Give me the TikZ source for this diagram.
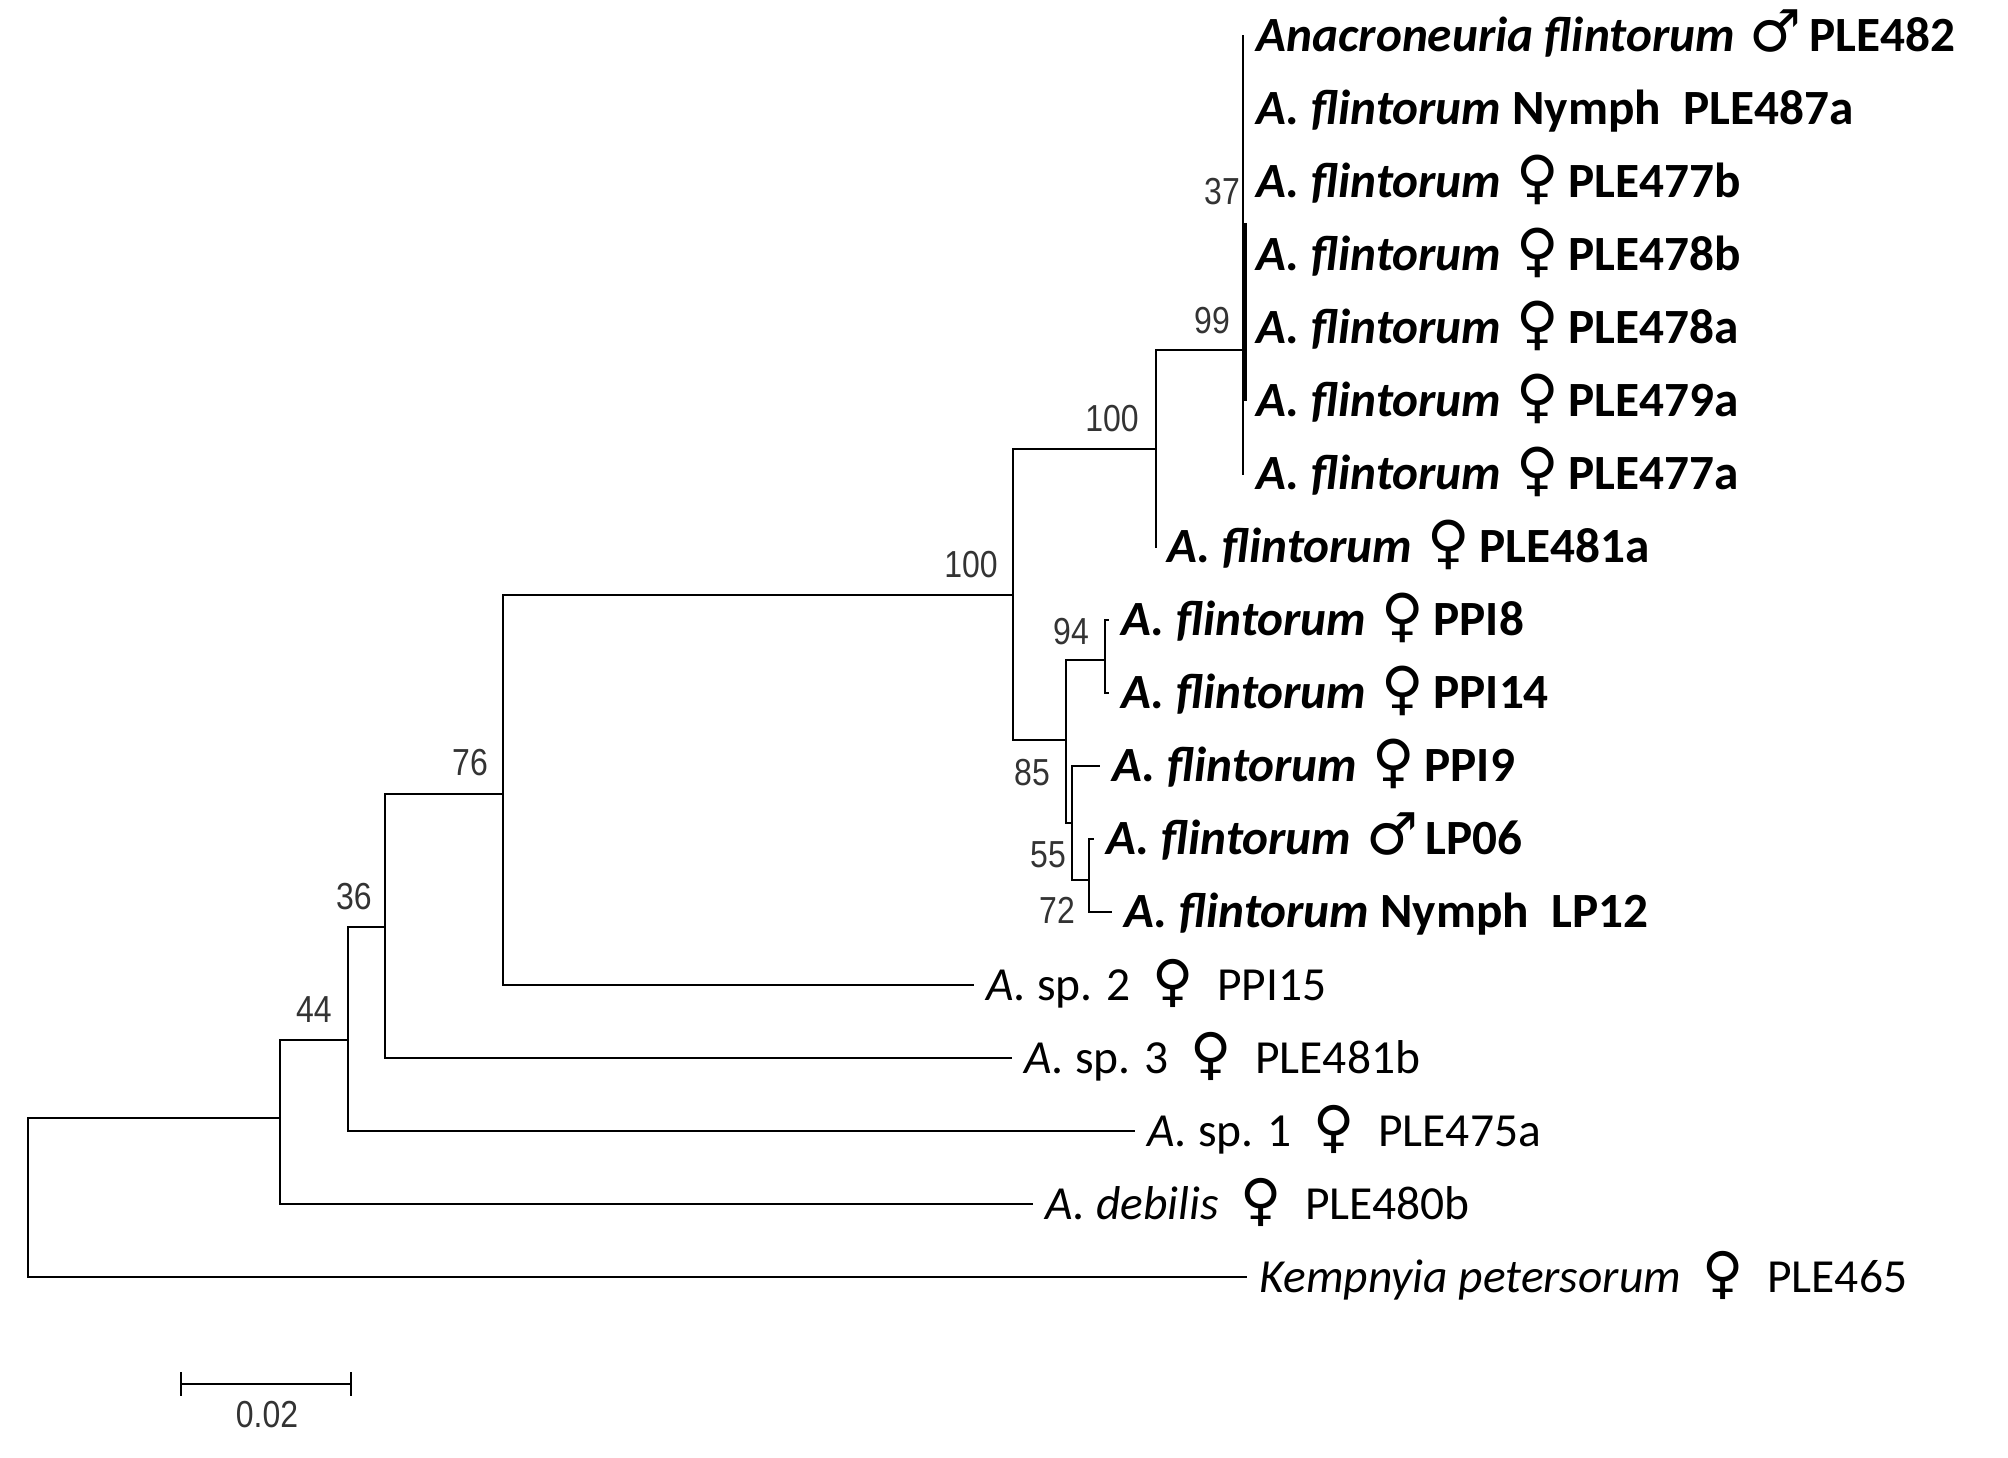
\documentclass[tikz,border=0pt]{standalone}
\usepackage{fontspec}
\setmainfont{Carlito}
\newfontfamily\symfont{DejaVu Sans}
\newfontfamily\bsfont[FakeStretch=0.85]{Liberation Sans}
\newcommand{\fsym}{\hspace{0.3em}{\symfont\fontsize{16.5}{16}\selectfont ♀}\hspace{0.2em}}
\newcommand{\msym}{\hspace{0.3em}{\symfont\fontsize{16.5}{16}\selectfont ♂}\hspace{0.15em}}
\newcommand{\fsymr}{\hspace{0.45em}{\symfont\fontsize{16}{16}\selectfont ♀}\hspace{0.5em}}

\begin{document}
\begin{tikzpicture}[
    x=0.01cm, y=-0.01cm,
    br/.style={line width=0.8pt},
    leaf/.style={anchor=west, inner xsep=3.4pt, inner ysep=0pt, text height=8.7pt, text depth=0pt, font=\fontsize{13.5}{15}\selectfont},
    leafb/.style={leaf, text height=9pt, font=\fontsize{14}{16}\selectfont\bfseries},
    boot/.style={inner sep=0pt, text=black!80, font=\bsfont\fontsize{10.7}{12}\selectfont}
]
\useasboundingbox (0,0) rectangle (2008,1458);

% internal nodes of the tree
\coordinate (root) at (28,1200);
\coordinate (nA) at (280,1118);
\coordinate (n44) at (348,1040);
\coordinate (n36) at (385,927);
\coordinate (n76) at (503,794);
\coordinate (n100a) at (1013,595);
\coordinate (n100b) at (1156,449);
\coordinate (n99) at (1243,350);
\coordinate (n37) at (1245,223);
\coordinate (n85) at (1066,740);
\coordinate (n94) at (1105,660);
\coordinate (nK) at (1072,823);
\coordinate (nL) at (1089,880);

% terminal taxa
\node[leafb] (ple482) at (1244,36) {\textit{Anacroneuria flintorum}\msym PLE482};
\node[leafb] (ple487a) at (1244,109) {\textit{A. flintorum} Nymph\hspace{0.45em}PLE487a};
\node[leafb] (ple477b) at (1244,182) {\textit{A. flintorum}\fsym PLE477b};
\node[leafb] (ple478b) at (1244,255) {\textit{A. flintorum}\fsym PLE478b};
\node[leafb] (ple478a) at (1244,328) {\textit{A. flintorum}\fsym PLE478a};
\node[leafb] (ple479a) at (1244,401) {\textit{A. flintorum}\fsym PLE479a};
\node[leafb] (ple477a) at (1244,474) {\textit{A. flintorum}\fsym PLE477a};
\node[leafb] (ple481a) at (1155,547) {\textit{A. flintorum}\fsym PLE481a};
\node[leafb] (ppi8) at (1109,620) {\textit{A. flintorum}\fsym PPI8};
\node[leafb] (ppi14) at (1109,693) {\textit{A. flintorum}\fsym PPI14};
\node[leafb] (ppi9) at (1100,766) {\textit{A. flintorum}\fsym PPI9};
\node[leafb] (lp06) at (1094,839) {\textit{A. flintorum}\msym LP06};
\node[leafb] (lp12) at (1112,912) {\textit{A. flintorum} Nymph\hspace{0.45em}LP12};
\node[leaf] (ppi15) at (974,985) {\textit{A.} sp. 2\fsymr PPI15};
\node[leaf] (ple481b) at (1012,1058) {\textit{A.} sp. 3\fsymr PLE481b};
\node[leaf] (ple475a) at (1135,1131) {\textit{A.} sp. 1\fsymr PLE475a};
\node[leaf] (ple480b) at (1033,1204) {\textit{A. debilis}\fsymr PLE480b};
\node[leaf] (ple465) at (1247,1277) {\textit{Kempnyia petersorum}\fsymr PLE465};

% branches
\draw[br] (root) |- (nA);
\draw[br] (root) |- (ple465.west);
\draw[br] (nA) |- (n44);
\draw[br] (nA) |- (ple480b.west);
\draw[br] (n44) |- (n36);
\draw[br] (n44) |- (ple475a.west);
\draw[br] (n36) |- (n76);
\draw[br] (n36) |- (ple481b.west);
\draw[br] (n76) |- (n100a);
\draw[br] (n76) |- (ppi15.west);
\draw[br] (n100a) |- (n100b);
\draw[br] (n100a) |- (n85);
\draw[br] (n100b) |- (n99);
\draw[br] (n100b) |- (ple481a.west);
\draw[br] (n99) |- (ple482.west);
\draw[br] (n99) |- (ple477a.west);
\draw[line width=1.4pt] (n37) -- (n37 |- ple479a.west);
\draw[br] (n85) |- (n94);
\draw[br] (n85) |- (nK);
\draw[br] (n94) |- (ppi8.west);
\draw[br] (n94) |- (ppi14.west);
\draw[br] (nK) |- (ppi9.west);
\draw[br] (nK) |- (nL);
\draw[br] (nL) |- (lp06.west);
\draw[br] (nL) |- (lp12.west);

% bootstrap values
\node[boot] (b37) at (1222,192) {37};
\node[boot] (b99) at (1212,321) {99};
\node[boot] (b100b) at (1112,419) {100};
\node[boot] (b100a) at (971,565) {100};
\node[boot] (b94) at (1071,632) {94};
\node[boot] (b85) at (1032,773) {85};
\node[boot] (b55) at (1048,855) {55};
\node[boot] (b72) at (1057,910) {72};
\node[boot] (b76) at (470,763) {76};
\node[boot] (b36) at (354,897) {36};
\node[boot] (b44) at (314,1010) {44};

% scale bar
\coordinate (sbl) at (181,1384);
\coordinate (sbr) at (351,1384);
\draw[br] (sbl) -- (sbr);
\draw[br] (sbl) ++(0,-12) -- ++(0,24);
\draw[br] (sbr) ++(0,-12) -- ++(0,24);
\node[boot] (sblab) at (267,1415) {0.02};
\end{tikzpicture}
\end{document}
